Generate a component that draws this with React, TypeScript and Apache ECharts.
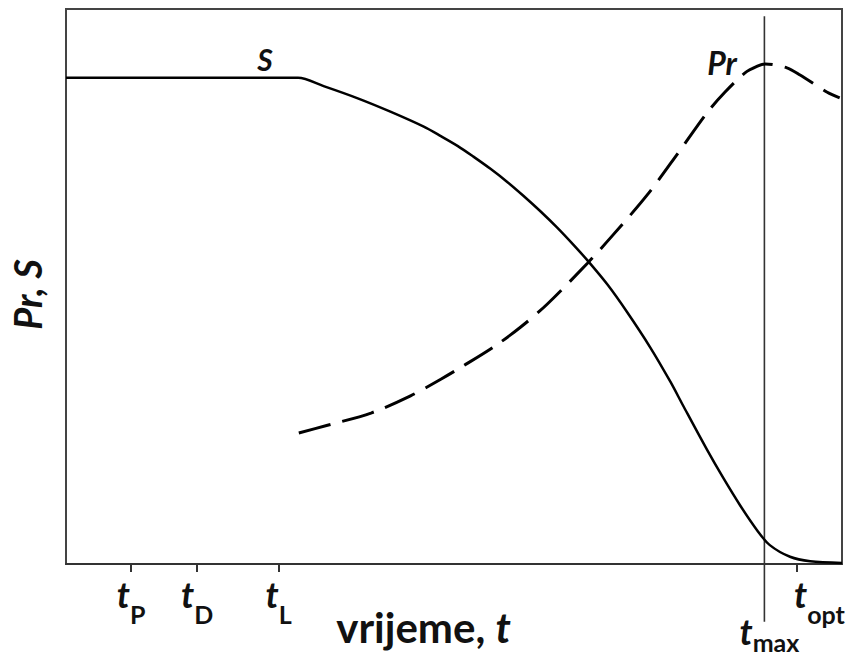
import React, { useEffect, useRef } from "react";
import * as echarts from "echarts";

// Substrate curve S (time, value)
const sTime = [0, 27.0, 29.9, 33.2, 37.6, 41.8, 46.1, 48.3, 50.5, 52.5, 54.7, 56.9, 58.9, 61.1, 63.3, 65.4, 67.2, 69.8, 72.3, 75.3, 77.9, 79.5, 82.6, 84.7, 86.9, 89.1, 90.7, 93.3, 95.9, 100];
const sValue = [87.6, 87.6, 87.6, 86.1, 83.9, 81.5, 78.8, 77.1, 75.3, 73.4, 71.2, 68.8, 66.4, 63.6, 60.6, 57.5, 54.7, 50.3, 45.4, 39.0, 32.8, 28.6, 20.6, 15.5, 10.5, 6.0, 3.4, 1.3, 0.5, 0.2];

// Product curve Pr (time, value)
const prTime = [30.0, 33.7, 39.3, 44.4, 48.3, 51.2, 55.1, 58.6, 62.0, 67.2, 70.5, 74.9, 78.9, 82.6, 84.9, 87.5, 89.1, 90.1, 92.9, 94.6, 98.1, 99.7];
const prValue = [23.6, 25.0, 27.2, 30.3, 33.3, 35.7, 39.1, 42.7, 46.8, 54.2, 59.3, 66.5, 74.1, 81.3, 85.0, 88.5, 89.7, 90.1, 89.4, 88.1, 85.0, 84.0];

// Tick positions and subscripts
const tickNames = ["P", "D", "L", "opt"];
const tickValues = [8.4, 16.9, 27.4, 94.2];
const tMax = 90.0;
const tMaxName = "max";
const maxLineTop = 98.7;
const maxLineBottom = -10.4;

const FONT = "Lato, 'Open Sans', sans-serif";

export default function App() {
  const ref = useRef<HTMLDivElement>(null);
  useEffect(() => {
    if (!ref.current) return;
    const chart = echarts.init(ref.current, null, { renderer: "svg" });
    const tStyle = { fontSize: 36, fontWeight: "bold", fontStyle: "italic", fontFamily: FONT, color: "#111", verticalAlign: "top", lineHeight: 38 };
    const sStyle = { fontSize: 25, fontWeight: "bold", fontFamily: FONT, color: "#111", verticalAlign: "top", lineHeight: 26, padding: [25, 0, 0, 0] };
    chart.setOption({
      animation: false,
      grid: { left: 66, right: 8, top: 9, bottom: 96, show: true, borderColor: "#444", borderWidth: 2, containLabel: false, outerBoundsMode: "none" },
      xAxis: [
        {
          type: "value",
          min: 0,
          max: 100,
          position: "bottom",
          name: "{n|vrijeme, }{i|t}",
          nameLocation: "middle",
          nameGap: 42,
          nameMoveOverlap: false,
          nameTextStyle: {
            padding: [0, 61, 0, 0],
            rich: {
              n: { fontSize: 42, fontWeight: "bold", fontFamily: FONT, color: "#111" },
              i: { fontSize: 42, fontWeight: "bold", fontStyle: "italic", fontFamily: FONT, color: "#111" },
            },
          },
          axisLine: { show: true, lineStyle: { color: "#333", width: 2 } },
          axisTick: { show: true, customValues: tickValues, length: 8, lineStyle: { color: "#333", width: 2 } },
          splitLine: { show: false },
          axisLabel: {
            show: true,
            customValues: tickValues,
            hideOverlap: false,
            margin: 12,
            formatter: (v: number) => {
              let idx = 0;
              let best = Infinity;
              tickValues.forEach((tv, i) => {
                if (Math.abs(tv - v) < best) { best = Math.abs(tv - v); idx = i; }
              });
              const n = tickNames[idx];
              if (n === "opt") return "{po|}{t|t}{s|opt}";
              return "{t|t}{s|" + n + "}";
            },
            rich: {
              t: tStyle,
              s: sStyle,
              po: { width: 45, verticalAlign: "top" },
            },
          },
        },
        {
          type: "value",
          min: 0,
          max: 100,
          position: "bottom",
          gridIndex: 0,
          axisLine: { show: false },
          axisTick: { show: false },
          splitLine: { show: false },
          axisLabel: {
            show: true,
            customValues: [tMax],
            hideOverlap: false,
            margin: 49,
            formatter: () => "{pm|}{t|t}{s|" + tMaxName + "}",
            rich: {
              t: tStyle,
              s: { ...sStyle, padding: [16, 0, 0, 0] },
              pm: { width: 10, verticalAlign: "top" },
            },
          },
        },
      ],
      yAxis: {
        type: "value",
        min: 0,
        max: 100,
        name: "Pr, S",
        nameLocation: "middle",
        nameGap: 20,
        nameTextStyle: { fontSize: 38, fontWeight: "bold", fontStyle: "italic", fontFamily: FONT, color: "#111", padding: [0, 16, 0, 0] },
        axisLine: { show: false },
        axisTick: { show: false },
        axisLabel: { show: false },
        splitLine: { show: false },
      },
      graphic: [
        { type: "text", x: 265, y: 59, style: { text: "S", fontSize: 30, fontWeight: "bold", fontStyle: "italic", fontFamily: FONT, fill: "#111", align: "center", verticalAlign: "middle" } },
        { type: "text", x: 722, y: 62, style: { text: "Pr", fontSize: 32, fontWeight: "bold", fontStyle: "italic", fontFamily: FONT, fill: "#111", align: "center", verticalAlign: "middle" } },
      ],
      series: [
        {
          type: "line",
          name: "S",
          xAxisIndex: 0,
          data: sTime.map((t, i) => [t, sValue[i]]),
          showSymbol: false,
          smooth: 0.3,
          lineStyle: { color: "#000", width: 2.5 },
          clip: false,
        },
        {
          type: "line",
          name: "Pr",
          xAxisIndex: 0,
          data: prTime.map((t, i) => [t, prValue[i]]),
          showSymbol: false,
          smooth: 0.3,
          lineStyle: { color: "#000", width: 3, type: [33, 12], cap: "butt" },
          clip: false,
        },
        {
          type: "custom",
          xAxisIndex: 0,
          data: [[tMax, maxLineTop, maxLineBottom]],
          encode: { x: 0, y: 1 },
          clip: false,
          silent: true,
          renderItem: (_params: any, api: any) => {
            const a = api.coord([api.value(0), api.value(1)]);
            const b = api.coord([api.value(0), api.value(2)]);
            return {
              type: "line",
              shape: { x1: a[0], y1: a[1], x2: b[0], y2: b[1] },
              style: { stroke: "#333", lineWidth: 1.6 },
            };
          },
        },
      ],
    });
    return () => chart.dispose();
  }, []);
  return <div ref={ref} style={{ width: 850, height: 660, position: "absolute", left: 0, top: 0 }} />;
}
